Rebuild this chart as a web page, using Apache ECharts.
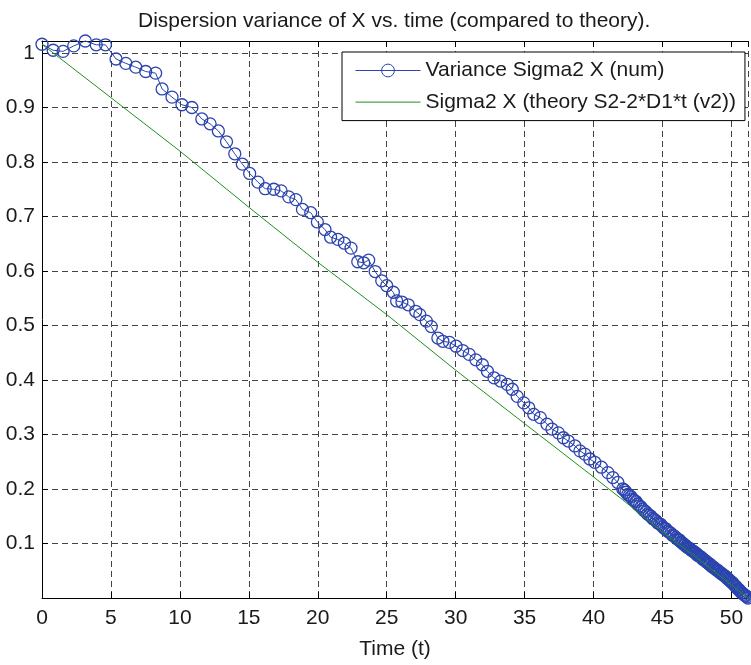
<!DOCTYPE html>
<html>
<head>
<meta charset="utf-8">
<style>
  html, body { margin: 0; padding: 0; background: #ffffff; }
  #chart { width: 751px; height: 665px; }
</style>
<script src="https://cdn.jsdelivr.net/npm/echarts@6/dist/echarts.min.js"></script>
</head>
<body>
<div id="chart"></div>
<script>
// ---- data ----
const titleText = 'Dispersion variance of X vs. time (compared to theory).';
const xAxisName = 'Time (t)';
const seriesNames = ['Variance Sigma2 X (num)', 'Sigma2 X (theory S2-2*D1*t (v2))'];
const xTicks = [0, 5, 10, 15, 20, 25, 30, 35, 40, 45, 50];
const yTicks = [0.1, 0.2, 0.3, 0.4, 0.5, 0.6, 0.7, 0.8, 0.9, 1];

// numerical variance: time values
const numT = [
  0.00, 0.81, 1.53, 2.30, 3.14, 3.93, 4.60, 5.37, 6.08, 6.80,
  7.52, 8.24, 8.71, 9.43, 10.15, 10.87, 11.59, 12.19, 12.79, 13.38,
  13.98, 14.53, 15.06, 15.66, 16.19, 16.81, 17.34, 17.89, 18.41, 18.89,
  19.49, 19.97, 20.52, 20.93, 21.46, 21.93, 22.41, 22.90, 23.33, 23.69,
  24.16, 24.64, 25.00, 25.48, 25.72, 26.10, 26.56, 27.10, 27.40, 27.87,
  28.23, 28.71, 29.07, 29.55, 30.03, 30.51, 30.98, 31.46, 31.94, 32.30,
  32.78, 33.26, 33.74, 34.10, 34.46, 34.94, 35.30, 35.66, 36.14, 36.62,
  36.98, 37.45, 37.81, 38.17, 38.65, 39.01, 39.37, 39.73, 40.09, 40.57,
  41.04, 41.40, 41.76, 42.12, 42.24, 42.36, 42.48, 42.60, 42.72, 42.84,
  42.96, 43.08, 43.20, 43.32, 43.44, 43.56, 43.68, 43.80, 43.92, 44.04,
  44.16, 44.28, 44.40, 44.52, 44.64, 44.76, 44.88, 45.00, 45.12, 45.24,
  45.36, 45.48, 45.60, 45.72, 45.84, 45.96, 46.08, 46.16, 46.24, 46.32,
  46.40, 46.48, 46.56, 46.64, 46.72, 46.80, 46.88, 46.96, 47.04, 47.12,
  47.20, 47.28, 47.36, 47.44, 47.52, 47.60, 47.68, 47.76, 47.84, 47.92,
  48.00, 48.08, 48.16, 48.24, 48.32, 48.40, 48.48, 48.56, 48.64, 48.72,
  48.80, 48.88, 48.96, 49.04, 49.12, 49.20, 49.28, 49.36, 49.44, 49.52,
  49.60, 49.68, 49.76, 49.84, 49.92, 50.00, 50.08, 50.16, 50.24, 50.32,
  50.40, 50.48, 50.56, 50.64, 50.72, 50.80, 50.88, 50.96, 51.04, 51.12,
  51.20
];
// numerical variance: values
const numV = [
  1.016, 1.005, 1.003, 1.013, 1.022, 1.015, 1.015, 0.989, 0.981, 0.974,
  0.966, 0.963, 0.934, 0.919, 0.905, 0.900, 0.879, 0.870, 0.857, 0.837,
  0.815, 0.796, 0.779, 0.763, 0.751, 0.750, 0.747, 0.736, 0.731, 0.713,
  0.707, 0.690, 0.676, 0.662, 0.658, 0.651, 0.642, 0.617, 0.615, 0.620,
  0.599, 0.582, 0.573, 0.561, 0.545, 0.543, 0.538, 0.526, 0.520, 0.508,
  0.498, 0.477, 0.471, 0.469, 0.462, 0.454, 0.447, 0.437, 0.428, 0.416,
  0.404, 0.398, 0.392, 0.383, 0.370, 0.358, 0.349, 0.337, 0.331, 0.319,
  0.310, 0.303, 0.294, 0.288, 0.279, 0.270, 0.264, 0.255, 0.249, 0.240,
  0.230, 0.221, 0.212, 0.200, 0.198, 0.194, 0.190, 0.188, 0.186, 0.181,
  0.179, 0.177, 0.172, 0.169, 0.167, 0.163, 0.160, 0.158, 0.154, 0.152,
  0.150, 0.146, 0.144, 0.142, 0.138, 0.136, 0.135, 0.131, 0.128, 0.127,
  0.123, 0.121, 0.119, 0.115, 0.114, 0.111, 0.108, 0.107, 0.106, 0.103,
  0.102, 0.100, 0.098, 0.097, 0.095, 0.093, 0.092, 0.091, 0.089, 0.087,
  0.086, 0.085, 0.083, 0.082, 0.079, 0.078, 0.077, 0.075, 0.074, 0.071,
  0.070, 0.069, 0.067, 0.065, 0.064, 0.062, 0.061, 0.058, 0.057, 0.056,
  0.054, 0.052, 0.051, 0.050, 0.048, 0.046, 0.045, 0.043, 0.042, 0.040,
  0.039, 0.036, 0.035, 0.033, 0.031, 0.029, 0.028, 0.025, 0.023, 0.021,
  0.019, 0.016, 0.015, 0.012, 0.010, 0.009, 0.007, 0.005, 0.004, 0.002,
  0.000
];

// theory line
const theoryT = [0, 5, 10, 15, 20, 25, 30, 35, 40, 42.12, 45, 47.3, 49.4, 51.2];
const theoryV = [1.016, 0.918, 0.820, 0.717, 0.616, 0.520, 0.418, 0.320, 0.222, 0.180, 0.121, 0.077, 0.036, 0.000];

const xMin = 0, xMax = 51.2, xStep = 5;
const yMin = 0, yMax = 1.022, yStep = 0.1;

// ---- build chart ----
const numData = numT.map((t, i) => [t, numV[i]]);
const theoryData = theoryT.map((t, i) => [t, theoryV[i]]);

const FONT = '"Liberation Sans", Arial, Helvetica, sans-serif';
const BLUE = '#2b44ae';
const GREEN = '#1f8f1f';
const TXT = '#1a1a1a';

const gridLine = { show: true, lineStyle: { color: '#444', type: [6, 4], width: 1 } };

function xLabel(v) {
  const hit = xTicks.find(t => Math.abs(t - v) < 1e-6);
  return hit === undefined ? '' : String(hit);
}
function yLabel(v) {
  const hit = yTicks.find(t => Math.abs(t - v) < 1e-6);
  return hit === undefined ? '' : String(hit);
}

const chart = echarts.init(document.getElementById('chart'), null, { renderer: 'canvas' });
chart.setOption({
  animation: false,
  backgroundColor: '#ffffff',
  textStyle: { fontFamily: FONT },
  title: {
    text: titleText,
    left: 138,
    top: 11,
    padding: 0,
    textStyle: { fontFamily: FONT, fontSize: 21, fontWeight: 'normal', color: TXT }
  },
  legend: {
    orient: 'vertical',
    left: 342,
    top: 52,
    padding: [8, 9, 8, 13],
    itemWidth: 65,
    itemHeight: 16,
    itemGap: 10.6,
    backgroundColor: '#ffffff',
    borderColor: '#000000',
    borderWidth: 1,
    borderRadius: 0,
    lineStyle: { width: 1 },
    itemStyle: { borderWidth: 1 },
    textStyle: { fontFamily: FONT, fontSize: 21, color: TXT },
    data: [
      { name: seriesNames[0], itemStyle: { color: 'rgba(255,255,255,0)', borderColor: BLUE, borderWidth: 1 } },
      { name: seriesNames[1], itemStyle: { color: 'rgba(0,0,0,0)', borderColor: 'rgba(0,0,0,0)', borderWidth: 0 } }
    ]
  },
  grid: { left: 42, top: 41, width: 713, height: 558, containLabel: false },
  xAxis: [
    {
      type: 'value', position: 'bottom',
      min: xMin, max: xMax, interval: xStep,
      name: xAxisName, nameLocation: 'middle', nameGap: 41,
      nameTextStyle: { fontFamily: FONT, fontSize: 21, color: TXT },
      axisLine: { show: true, lineStyle: { color: '#000', width: 1 } },
      axisTick: { show: true, inside: true, length: 6, lineStyle: { color: '#000' } },
      axisLabel: { fontFamily: FONT, fontSize: 21, color: TXT, margin: 10, formatter: xLabel },
      splitLine: gridLine
    },
    {
      type: 'value', position: 'top',
      min: xMin, max: xMax, interval: xStep,
      axisLine: { show: true, lineStyle: { color: '#000', width: 1 } },
      axisTick: { show: true, inside: true, length: 6, lineStyle: { color: '#000' } },
      axisLabel: { show: false },
      splitLine: { show: false }
    }
  ],
  yAxis: [
    {
      type: 'value', position: 'left',
      min: yMin, max: yMax, interval: yStep,
      axisLine: { show: true, lineStyle: { color: '#000', width: 1 } },
      axisTick: { show: true, inside: true, length: 6, lineStyle: { color: '#000' } },
      axisLabel: { fontFamily: FONT, fontSize: 21, color: TXT, margin: 7, formatter: yLabel },
      splitLine: gridLine
    }
  ],
  series: [
    {
      name: seriesNames[0],
      type: 'line',
      xAxisIndex: 0, yAxisIndex: 0,
      data: numData,
      symbol: 'circle',
      symbolSize: 12,
      showAllSymbol: true,
      clip: false,
      lineStyle: { color: BLUE, width: 1 },
      itemStyle: { color: 'rgba(255,255,255,0)', borderColor: BLUE, borderWidth: 1.3 },
      z: 3
    },
    {
      name: seriesNames[1],
      type: 'line',
      xAxisIndex: 0, yAxisIndex: 0,
      data: theoryData,
      symbol: 'none',
      lineStyle: { color: GREEN, width: 1 },
      itemStyle: { color: GREEN },
      z: 4
    }
  ]
});
</script>
</body>
</html>
